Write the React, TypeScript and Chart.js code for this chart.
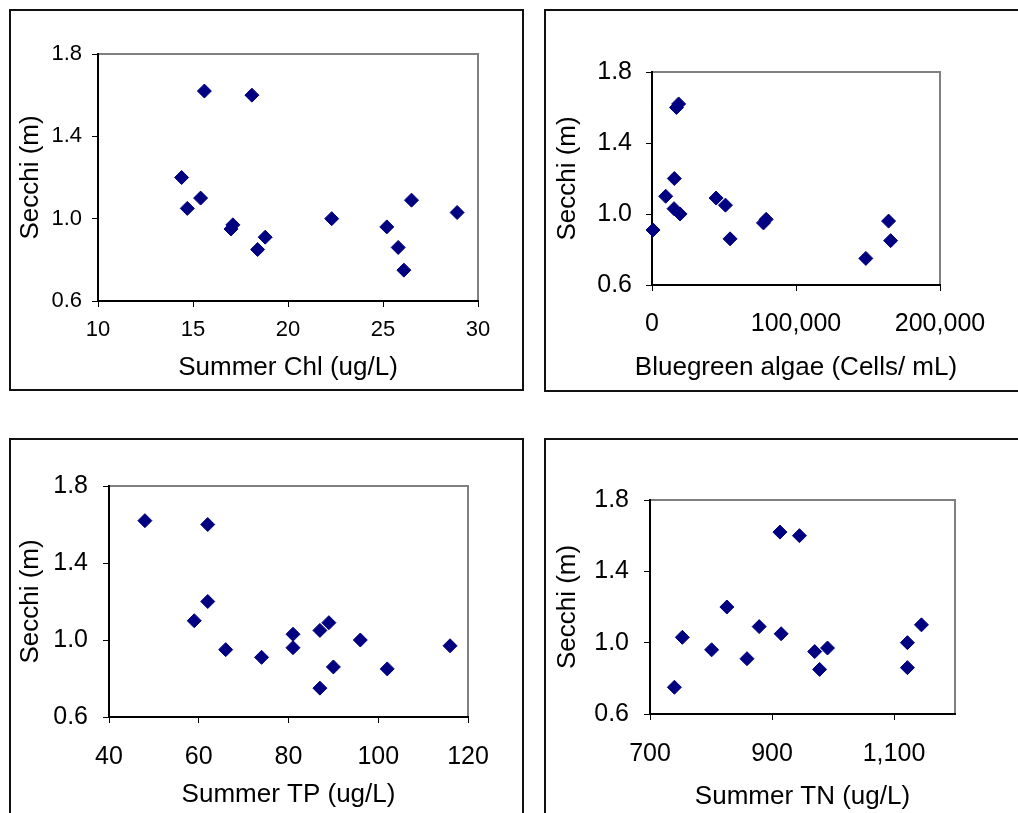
import React, { useEffect, useRef } from "react";
import { Chart, registerables } from "chart.js";

Chart.register(...registerables);

// Shared response variable (one value per lake)
const secchi = [1.62, 1.6, 1.2, 1.1, 1.09, 1.05, 1.03, 1.0, 0.97, 0.96, 0.95, 0.91, 0.86, 0.85, 0.75];
// Predictors, same lake order as secchi
const summerChl = [15.6, 18.1, 14.4, 15.4, 26.5, 14.7, 28.9, 22.3, 17.1, 25.2, 17.0, 18.8, 25.8, 18.4, 26.1];
const bluegreen = [18500, 17000, 15500, 9500, 44500, 51000, 15300, 19500, 79300, 164300, 77400, 700, 54200, 165700, 148500];
const summerTP = [48, 62, 62, 59, 89, 87, 81, 96, 116, 81, 66, 74, 90, 102, 87];
const summerTN = [913, 945, 826, 1145, 879, 915, 753, 1122, 991, 801, 970, 859, 1122, 978, 740];

// Tick labels
const secchiTicks = [0.6, 1.0, 1.4, 1.8];
const chlTicks = [10, 15, 20, 25, 30];
const bluegreenTicks = [0, 100000, 200000];
const tpTicks = [40, 60, 80, 100, 120];
const tnTicks = [700, 900, 1100];

const yTitle = "Secchi (m)";
const chlTitle = "Summer Chl (ug/L)";
const bluegreenTitle = "Bluegreen algae (Cells/ mL)";
const tpTitle = "Summer TP (ug/L)";
const tnTitle = "Summer TN (ug/L)";

const NAVY = "#000080";
const FONT = "'Liberation Sans', Arial, sans-serif";
const TITLE_SIZE = 26;

type PanelCfg = {
  xs: number[];
  xTicks: number[];
  xMin: number;
  xMax: number;
  xTitle: string;
  commas: boolean;
  wideTitle: boolean;
  box: { left: number; top: number; width: number; height: number };
  cw: number;
  ch: number;
  area: { left: number; top: number; right: number; bottom: number };
  tickSize: number;
  yTickPad: number;
  xTickPad: number;
  yTitlePad: number;
  xTitlePad: number;
};

const panels: PanelCfg[] = [
  {
    xs: summerChl, xTicks: chlTicks, xMin: 10, xMax: 30, xTitle: chlTitle, commas: false, wideTitle: false,
    box: { left: 9, top: 9, width: 515, height: 382 }, cw: 511, ch: 378,
    area: { left: 87, top: 43, right: 467, bottom: 290 },
    tickSize: 22, yTickPad: 10, xTickPad: 10, yTitlePad: 7, xTitlePad: 8,
  },
  {
    xs: bluegreen, xTicks: bluegreenTicks, xMin: 0, xMax: 200000, xTitle: bluegreenTitle, commas: true, wideTitle: true,
    box: { left: 544, top: 9, width: 500, height: 383 }, cw: 472, ch: 379,
    area: { left: 106, top: 61, right: 394, bottom: 274 },
    tickSize: 25, yTickPad: 14, xTickPad: 18, yTitlePad: 9, xTitlePad: 9,
  },
  {
    xs: summerTP, xTicks: tpTicks, xMin: 40, xMax: 120, xTitle: tpTitle, commas: false, wideTitle: false,
    box: { left: 9, top: 438, width: 515, height: 420 }, cw: 511, ch: 373,
    area: { left: 98, top: 46, right: 457, bottom: 277 },
    tickSize: 25, yTickPad: 15, xTickPad: 19, yTitlePad: 7, xTitlePad: 5,
  },
  {
    xs: summerTN, xTicks: tnTicks, xMin: 700, xMax: 1200, xTitle: tnTitle, commas: true, wideTitle: false,
    box: { left: 544, top: 438, width: 500, height: 420 }, cw: 472, ch: 373,
    area: { left: 104, top: 60, right: 409, bottom: 274 },
    tickSize: 25, yTickPad: 15, xTickPad: 19, yTitlePad: 9, xTitlePad: 3,
  },
];

const framePlugin = {
  id: "plotFrame",
  beforeDatasetsDraw(chart: any) {
    const { ctx, chartArea: a } = chart;
    ctx.save();
    ctx.strokeStyle = "#808080";
    ctx.lineWidth = 2;
    ctx.beginPath();
    ctx.moveTo(a.left + 1, a.top);
    ctx.lineTo(a.right, a.top);
    ctx.lineTo(a.right, a.bottom - 1);
    ctx.stroke();
    ctx.restore();
  },
};

function Panel({ cfg }: { cfg: PanelCfg }) {
  const ref = useRef<HTMLCanvasElement>(null);
  useEffect(() => {
    const canvas = ref.current;
    if (!canvas) return;
    const tickFont = { family: FONT, size: cfg.tickSize };
    const titleFont = { family: FONT, size: TITLE_SIZE, lineHeight: 1 };

    // axis title that may be wider than the plot area (not squeezed)
    const wideTitlePlugin = {
      id: "wideXTitle",
      afterDraw(chart: any) {
        if (!cfg.wideTitle) return;
        const { ctx, chartArea: a } = chart;
        ctx.save();
        ctx.font = `${TITLE_SIZE}px ${FONT}`;
        ctx.fillStyle = "#000";
        ctx.textAlign = "center";
        ctx.textBaseline = "middle";
        ctx.fillText(cfg.xTitle, (a.left + a.right) / 2, chart.height - cfg.xTitlePad - TITLE_SIZE / 2);
        ctx.restore();
      },
    };

    const chart = new Chart(canvas, {
      type: "scatter",
      data: {
        datasets: [
          {
            data: cfg.xs.map((x, i) => ({ x, y: secchi[i] })),
            pointStyle: "rectRot",
            pointRadius: 7,
            pointHoverRadius: 7,
            backgroundColor: NAVY,
            borderColor: NAVY,
            borderWidth: 1,
            clip: false,
          } as any,
        ],
      },
      options: {
        responsive: false,
        animation: false,
        events: [],
        layout: {
          padding: { left: 0, top: cfg.area.top, right: cfg.cw - cfg.area.right, bottom: 0 },
        },
        plugins: { legend: { display: false }, tooltip: { enabled: false } },
        scales: {
          x: {
            type: "linear",
            position: "bottom",
            min: cfg.xMin,
            max: cfg.xMax,
            afterBuildTicks: (s: any) => {
              s.ticks = cfg.xTicks.map((v) => ({ value: v }));
            },
            afterFit: (s: any) => {
              s.height = cfg.ch - cfg.area.bottom;
            },
            grid: { drawOnChartArea: false, drawTicks: true, tickLength: 6, color: "#000", lineWidth: 1 },
            border: { display: true, color: "#000", width: 2 },
            ticks: {
              font: tickFont,
              color: "#000",
              padding: cfg.xTickPad,
              maxRotation: 0,
              autoSkip: false,
              callback: (v: any) => (cfg.commas ? Number(v).toLocaleString("en-US") : String(v)),
            },
            title: {
              display: !cfg.wideTitle,
              text: cfg.xTitle,
              font: titleFont,
              color: "#000",
              padding: { top: 0, bottom: cfg.xTitlePad },
            },
          },
          y: {
            type: "linear",
            position: "left",
            min: 0.6,
            max: 1.8,
            afterBuildTicks: (s: any) => {
              s.ticks = secchiTicks.map((v) => ({ value: v }));
            },
            afterFit: (s: any) => {
              s.width = cfg.area.left;
            },
            grid: { drawOnChartArea: false, drawTicks: true, tickLength: 6, color: "#000", lineWidth: 1 },
            border: { display: true, color: "#000", width: 2 },
            ticks: {
              font: tickFont,
              color: "#000",
              padding: cfg.yTickPad,
              autoSkip: false,
              callback: (v: any) => Number(v).toFixed(1),
            },
            title: {
              display: true,
              text: yTitle,
              font: titleFont,
              color: "#000",
              padding: { top: cfg.yTitlePad, bottom: 0 },
            },
          },
        },
      },
      plugins: [framePlugin, wideTitlePlugin],
    });
    return () => chart.destroy();
  }, [cfg]);

  return (
    <div
      style={{
        position: "absolute",
        left: cfg.box.left,
        top: cfg.box.top,
        width: cfg.box.width,
        height: cfg.box.height,
        border: "2px solid #111",
        boxSizing: "border-box",
        background: "#fff",
      }}
    >
      <canvas
        ref={ref}
        width={cfg.cw}
        height={cfg.ch}
        style={{ position: "absolute", left: 0, top: 0, width: cfg.cw, height: cfg.ch }}
      />
    </div>
  );
}

export default function App() {
  return (
    <div
      style={{
        position: "absolute",
        left: 0,
        top: 0,
        width: 1018,
        height: 813,
        overflow: "hidden",
        background: "#fff",
      }}
    >
      {panels.map((p, i) => (
        <Panel key={i} cfg={p} />
      ))}
    </div>
  );
}
